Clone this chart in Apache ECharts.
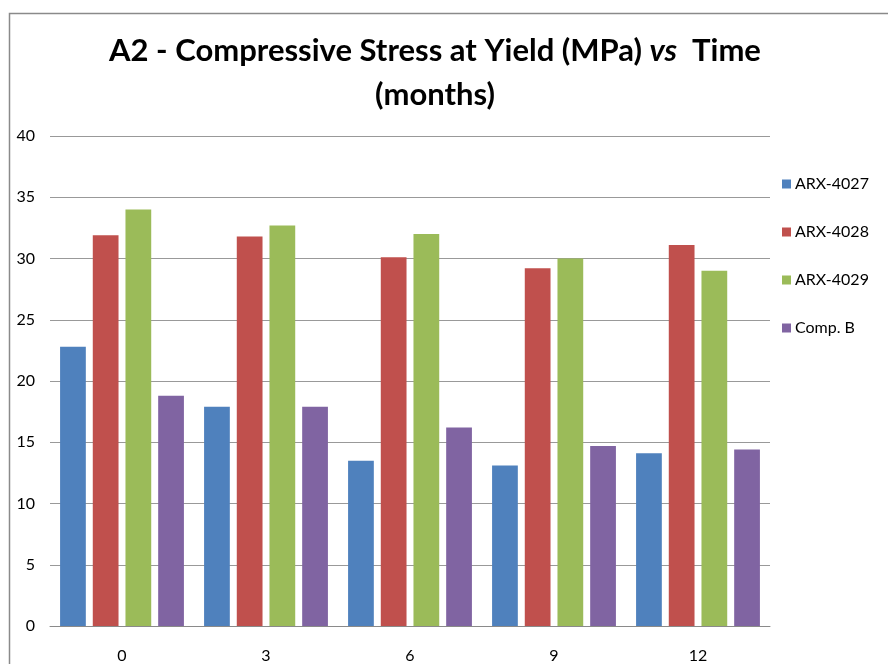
<!DOCTYPE html>
<html>
<head>
<meta charset="utf-8">
<script src="https://cdn.jsdelivr.net/npm/echarts@6/dist/echarts.min.js"></script>
<style>html,body{margin:0;padding:0;background:#fff;}#c{width:888px;height:664px;}</style>
</head>
<body>
<div id="c"></div>
<script>
const categories = ['0', '3', '6', '9', '12'];
const seriesNames = ['ARX-4027', 'ARX-4028', 'ARX-4029', 'Comp. B'];
const arx4027 = [22.8, 17.9, 13.5, 13.1, 14.1];
const arx4028 = [31.9, 31.8, 30.1, 29.2, 31.1];
const arx4029 = [34.0, 32.7, 32.0, 30.0, 29.0];
const compB = [18.8, 17.9, 16.2, 14.7, 14.4];
const yTicks = [0, 5, 10, 15, 20, 25, 30, 35, 40];
const colors = ['#4F81BD', '#C0504D', '#9BBB59', '#8064A2'];

const FONT = 'Lato';
const chart = echarts.init(document.getElementById('c'), null, {renderer: 'canvas'});
const values = [arx4027, arx4028, arx4029, compB];
chart.setOption({
  animation: false,
  backgroundColor: '#fff',
  color: colors,
  title: [
    {
      left: 430, top: 30, textAlign: 'center',
      text: '{b|A2 - Compressive Stress at Yield (MPa) }{i|vs}{b|  Time}',
      textStyle: {
        rich: {
          b: {fontFamily: FONT, fontWeight: 'bold', fontSize: 31, color: '#000'},
          i: {fontFamily: FONT, fontWeight: 'bold', fontStyle: 'italic', fontSize: 31, color: '#000'}
        }
      }
    },
    {
      left: 430, top: 74, textAlign: 'center',
      text: '(months)',
      textStyle: {fontFamily: FONT, fontWeight: 'bold', fontSize: 31, color: '#000'}
    }
  ],
  legend: {
    orient: 'vertical',
    left: 776, top: 168,
    itemWidth: 9, itemHeight: 9,
    itemGap: 32,
    icon: 'rect',
    padding: [8, 6, 8, 6],
    backgroundColor: '#fff',
    textStyle: {fontFamily: FONT, fontSize: 16, color: '#000', padding: [0, 0, 0, -1]},
    data: seriesNames
  },
  grid: {left: 50, right: 118, top: 136, bottom: 37, containLabel: false},
  xAxis: {
    type: 'category',
    data: categories,
    axisLine: {lineStyle: {color: '#8a8a8a', width: 1}},
    axisTick: {show: false},
    axisLabel: {fontFamily: FONT, fontSize: 16, color: '#000', margin: 22}
  },
  yAxis: {
    type: 'value',
    min: yTicks[0], max: yTicks[yTicks.length - 1], interval: 5,
    axisLine: {show: false},
    axisTick: {show: false},
    axisLabel: {fontFamily: FONT, fontSize: 16, color: '#000', margin: 15},
    splitLine: {lineStyle: {color: '#999', width: 1}}
  },
  series: seriesNames.map((n, i) => ({
    name: n,
    type: 'bar',
    data: values[i],
    barGap: '27%',
    barCategoryGap: '14%',
    itemStyle: {color: colors[i]}
  })),
  graphic: [
    {
      type: 'rect',
      shape: {x: 9.5, y: 13.5, width: 1000, height: 1000},
      style: {fill: null, stroke: '#8a8a8a', lineWidth: 1.5},
      silent: true
    }
  ]
});
</script>
</body>
</html>
